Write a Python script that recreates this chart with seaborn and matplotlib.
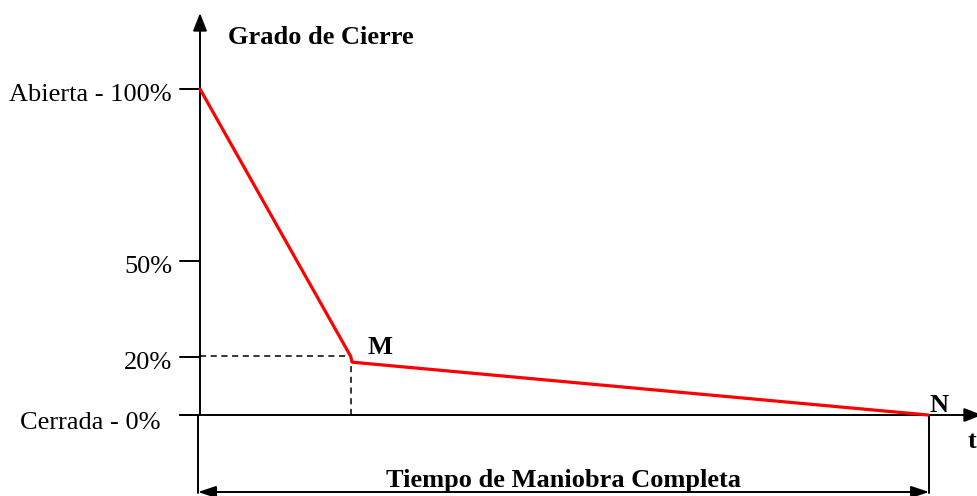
import matplotlib
matplotlib.use("Agg")
import matplotlib.pyplot as plt
import seaborn as sns
import pandas as pd

sns.set_theme(style="white")
plt.rcParams['font.family'] = ['Liberation Serif', 'DejaVu Serif']
plt.rcParams['text.color'] = 'black'

# Data (time normalised to full manoeuvre = 1)
t_vals = [0.0, 0.207, 0.209, 1.0]
grado = [100.0, 18.0, 16.2, 0.0]
point_names = ["M", "N"]
tick_vals = [100.0, 47.2, 17.8, 0.0]
tick_labels = ["Abierta - 100%", "50%", "20%", "Cerrada - 0%"]

df = pd.DataFrame({"t": t_vals, "g": grado})

fig = plt.figure(figsize=(9.77, 4.96), dpi=100)
ax = fig.add_axes([0, 0, 1, 1])
ax.set_axis_off()

# map: x px = 200 + t*728 ; y px = 415 - g*3.26
ax.set_xlim(-200 / 728, 777 / 728)
ax.set_ylim(-81 / 3.26, 415 / 3.26)

sns.lineplot(data=df, x="t", y="g", ax=ax, color="#ff0000", linewidth=2.3,
             legend=False, zorder=5)

k = dict(color="black", linewidth=1.4, zorder=3)
px = 1 / 728.0
py = 1 / 3.26
FS = 19

# y axis with arrow
ax.plot([0, 0], [0, 392 * py], **k)
ax.annotate("", xy=(0, 402 * py), xytext=(0, 385 * py),
            arrowprops=dict(arrowstyle="-|>,head_length=0.9,head_width=0.35",
                            color="black", lw=1.4, shrinkA=0, shrinkB=0))
# x axis with arrow
ax.plot([-20 * px, 770 * px], [0, 0], **k)
ax.annotate("", xy=(782 * px, 0), xytext=(762 * px, 0), annotation_clip=False,
            arrowprops=dict(arrowstyle="-|>,head_length=0.9,head_width=0.35",
                            color="black", lw=1.4, shrinkA=0, shrinkB=0))

# ticks and labels
label_right = [-28, -28, -28, -40]
label_drop = [6, 6, 6, 8]
for v, lab, r, d in zip(tick_vals, tick_labels, label_right, label_drop):
    ax.plot([-20 * px, 0], [v, v], **k)
    ax.text(r * px, v - d * py, lab, ha="right", va="center", fontsize=FS,
            color="black")

# dashed guides to M
ax.plot([0, t_vals[1]], [grado[1], grado[1]], color="black", lw=1.1,
        ls=(0, (4, 3)), zorder=2)
ax.plot([t_vals[1], t_vals[1]], [0, grado[1]], color="black", lw=1.1,
        ls=(0, (4, 3)), zorder=2)

# point labels
ax.text(t_vals[1] + 17 * px, grado[1] - 3 * py, point_names[0], fontsize=FS,
        fontweight="bold", ha="left", va="bottom", color="black")
ax.text(t_vals[-1] + 1 * px, -2 * py, point_names[1], fontsize=FS,
        fontweight="bold", ha="left", va="bottom", color="black")

# titles
ax.text(28 * px, 377 * py, "Grado de Cierre", fontsize=FS, fontweight="bold",
        ha="left", va="center", color="black")
ax.text(776 * px, -27 * py, "t", fontsize=FS, fontweight="bold",
        ha="right", va="center", color="black")

# dimension line
ax.plot([-2 * px, -2 * px], [0, -78 * py], **k)
ax.plot([1.0015, 1.0015], [0, -78 * py], **k)
ax.annotate("", xy=(-2 * px, -77 * py), xytext=(1.0015, -77 * py),
            arrowprops=dict(arrowstyle="<|-|>,head_length=0.9,head_width=0.3",
                            color="black", lw=1.4, shrinkA=0, shrinkB=0))
ax.text(0.5, -72 * py, "Tiempo de Maniobra Completa", fontsize=FS,
        fontweight="bold", ha="center", va="baseline", color="black")

fig.savefig("out.png", dpi=100)
